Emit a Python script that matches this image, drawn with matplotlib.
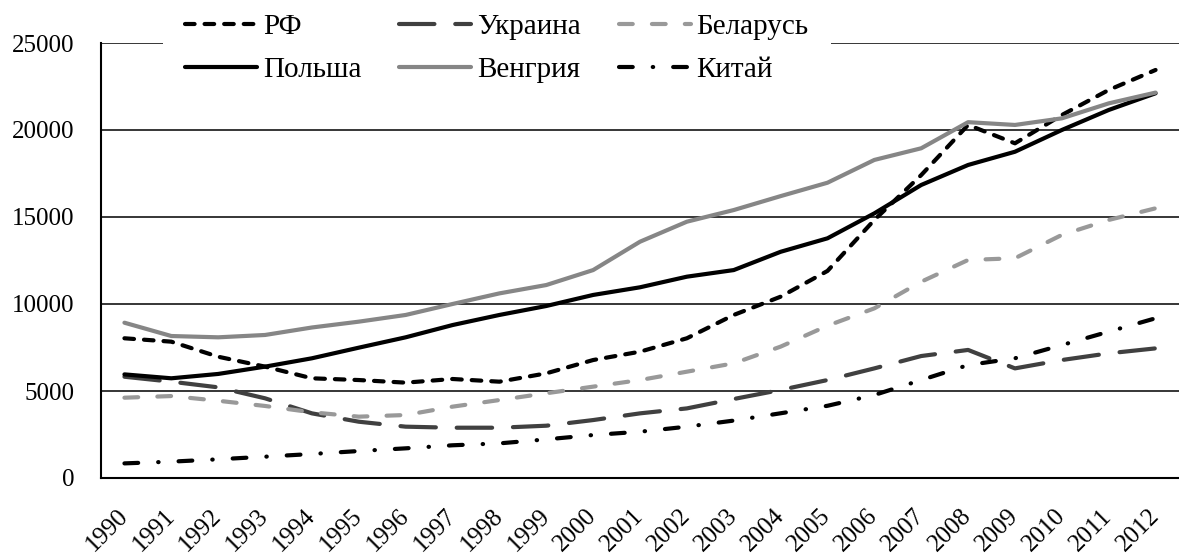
import numpy as np
import matplotlib
matplotlib.use('Agg')
import matplotlib.pyplot as plt
from matplotlib.transforms import ScaledTranslation

plt.rcParams['font.family'] = 'serif'
plt.rcParams['font.serif'] = ['Liberation Serif', 'Times New Roman', 'DejaVu Serif']

years = [str(y) for y in range(1990, 2013)]

rf = [8030, 7835, 6970, 6400, 5730, 5630, 5480, 5690, 5535, 6015, 6780, 7260,
      8030, 9370, 10420, 11900, 14830, 17410, 20290, 19235, 20860, 22300, 23450]
ukraine = [5820, 5535, 5210, 4580, 3715, 3235, 2950, 2890, 2890, 3005, 3330, 3715,
           4000, 4540, 5060, 5630, 6300, 7010, 7360, 6300, 6780, 7165, 7450]
belarus = [4615, 4710, 4440, 4140, 3775, 3525, 3620, 4100, 4480, 4870, 5250, 5630,
           6110, 6590, 7550, 8750, 9750, 11280, 12530, 12630, 13970, 14830, 15500]
poland = [5955, 5730, 5980, 6400, 6880, 7490, 8085, 8790, 9370, 9885, 10520, 10960,
          11570, 11950, 13000, 13775, 15210, 16840, 17990, 18750, 20000, 21150, 22110]
hungary = [8925, 8160, 8085, 8220, 8650, 8985, 9370, 10000, 10610, 11090, 11950, 13580,
           14730, 15400, 16200, 16970, 18280, 18950, 20450, 20290, 20670, 21530, 22150]
china = [840, 940, 1075, 1225, 1380, 1550, 1705, 1880, 1990, 2220, 2470, 2660,
         2950, 3300, 3720, 4150, 4770, 5630, 6490, 6880, 7640, 8410, 9180]

LW = 3.0

W, H = 1179, 559
fig = plt.figure(figsize=(W / 100, H / 100), dpi=100)
ax = fig.add_axes([101 / W, (H - 478) / H, (W - 101) / W, 435 / H])

x = np.arange(len(years))

series = [
    ('РФ', rf, 'black', (0, (2.3, 2.4))),
    ('Украина', ukraine, '#404040', (0, (8.5, 5.0))),
    ('Беларусь', belarus, '#999999', (0, (3.3, 4.6))),
    ('Польша', poland, 'black', '-'),
    ('Венгрия', hungary, '#868686', '-'),
    ('Китай', china, 'black', (0, (3.3, 4.8, 0.1, 4.8))),
]

lines = {}
for name, vals, col, ls in series:
    ln, = ax.plot(x, vals, color=col, lw=LW, linestyle=ls,
                  dash_capstyle='round', solid_capstyle='round', zorder=3)
    lines[name] = ln

ax.set_xlim(-0.5, len(years) - 0.5)
ax.set_ylim(0, 25000)
ax.set_yticks(np.arange(0, 25001, 5000))
ax.set_xticks(x)
ax.set_xticklabels(years, rotation=45, ha='right', va='center', rotation_mode='anchor')
for lbl in ax.get_xticklabels():
    lbl.set_transform(lbl.get_transform() + ScaledTranslation(1 / 100, 0, fig.dpi_scale_trans))

ax.grid(axis='y', color='black', lw=1.1, zorder=1)
ax.set_axisbelow(True)
for s in ['top', 'right']:
    ax.spines[s].set_visible(False)
ax.spines['left'].set_linewidth(1.5)
ax.spines['bottom'].set_linewidth(1.5)
ax.tick_params(axis='both', length=0, labelsize=18)
ax.tick_params(axis='y', pad=19)
ax.tick_params(axis='x', pad=25)

# column-wise fill, so order gives rows РФ/Украина/Беларусь and Польша/Венгрия/Китай
order = ['РФ', 'Польша', 'Украина', 'Венгрия', 'Беларусь', 'Китай']
leg = ax.legend([lines[n] for n in order], order, ncol=3, fontsize=21,
                loc='upper left', bbox_to_anchor=(163 / W, 1 + 8 / H),
                bbox_transform=fig.transFigure, borderaxespad=0, borderpad=0.75,
                handlelength=2.47, handletextpad=0.2, columnspacing=1.3,
                labelspacing=0.55, frameon=True, fancybox=False)
leg.get_frame().set_facecolor('white')
leg.get_frame().set_edgecolor('none')
leg.get_frame().set_alpha(1)
leg.set_zorder(5)

fig.savefig('out.png', dpi=100)
